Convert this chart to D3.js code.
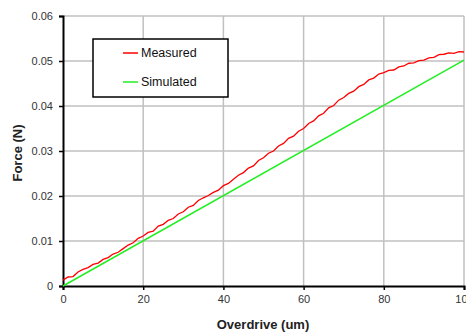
<!DOCTYPE html>
<html>
<head>
<meta charset="utf-8">
<script src="https://cdn.jsdelivr.net/npm/d3@7"></script>
<style>
  body { margin: 0; background: #fff; }
  svg { display: block; font-family: "Liberation Sans", Arial, sans-serif; }
</style>
</head>
<body>
<div id="chart"></div>
<script>
// measured force vs overdrive
var measuredX = [0, 1.25, 2.5, 3.75, 5, 6.25, 7.5, 8.75, 10, 11.25, 12.5, 13.75, 15, 16.25, 17.5, 18.75,
  20, 21.25, 22.5, 23.75, 25, 26.25, 27.5, 28.75, 30, 31.25, 32.5, 33.75, 35, 36.25, 37.5, 38.75,
  40, 41.25, 42.5, 43.75, 45, 46.25, 47.5, 48.75, 50, 51.25, 52.5, 53.75, 55, 56.25, 57.5, 58.75,
  60, 61.25, 62.5, 63.75, 65, 66.25, 67.5, 68.75, 70, 71.25, 72.5, 73.75, 75, 76.25, 77.5, 78.75,
  80, 81.25, 82.5, 83.75, 85, 86.25, 87.5, 88.75, 90, 91.25, 92.5, 93.75, 95, 96.25, 97.5, 98.75, 100];
var measuredY = [0.0013, 0.0020, 0.0021, 0.0031, 0.0037, 0.0041, 0.0048, 0.0051, 0.0059, 0.0063, 0.0071, 0.0075, 0.0083, 0.0091, 0.0096, 0.0106,
  0.0111, 0.0119, 0.0122, 0.0133, 0.0137, 0.0146, 0.0150, 0.0160, 0.0165, 0.0175, 0.0179, 0.0190, 0.0196, 0.0201, 0.0208, 0.0213,
  0.0223, 0.0228, 0.0237, 0.0246, 0.0252, 0.0262, 0.0267, 0.0279, 0.0285, 0.0295, 0.0300, 0.0311, 0.0317, 0.0328, 0.0333, 0.0344,
  0.0350, 0.0361, 0.0367, 0.0378, 0.0384, 0.0396, 0.0401, 0.0413, 0.0419, 0.0428, 0.0433, 0.0443, 0.0448, 0.0458, 0.0462, 0.0471,
  0.0474, 0.0479, 0.0480, 0.0487, 0.0489, 0.0495, 0.0496, 0.0501, 0.0502, 0.0507, 0.0508, 0.0514, 0.0515, 0.0518, 0.0517, 0.0521, 0.0520];

// simulated: straight line
var simulatedX = [0, 100];
var simulatedY = [0, 0.0502];

var xTicks = [0, 20, 40, 60, 80, 100];
var yTicks = [0, 0.01, 0.02, 0.03, 0.04, 0.05, 0.06];

var seriesNames = ["Measured", "Simulated"];
var seriesColors = ["#ff0000", "#22ee22"];

function drawChart() {
  var w = 466;
  var h = 333;
  var margin = {top: 16, left: 63, width: 401, height: 270};

  var xScale = d3.scaleLinear().domain([0, 100]).range([margin.left, margin.left + margin.width]);
  var yScale = d3.scaleLinear().domain([0, 0.06]).range([margin.top + margin.height, margin.top]);

  var svg = d3.select("#chart").append("svg")
    .attr("width", w)
    .attr("height", h);

  // gridlines
  svg.append("g").selectAll("line.vx")
    .data(xTicks.slice(1))
    .enter().append("line")
    .attr("x1", function(d) { return xScale(d); })
    .attr("x2", function(d) { return xScale(d); })
    .attr("y1", yScale(0))
    .attr("y2", yScale(0.06))
    .attr("stroke", "#c0c0c0")
    .attr("stroke-width", 1.5);

  svg.append("g").selectAll("line.hy")
    .data(yTicks.slice(1))
    .enter().append("line")
    .attr("x1", xScale(0))
    .attr("x2", xScale(100))
    .attr("y1", function(d) { return yScale(d); })
    .attr("y2", function(d) { return yScale(d); })
    .attr("stroke", "#c0c0c0")
    .attr("stroke-width", 1.5);

  // axes
  var xAxis = d3.axisBottom(xScale).tickValues(xTicks).tickSize(4).tickPadding(5)
    .tickFormat(d3.format("d"));
  var gx = svg.append("g")
    .attr("transform", "translate(0," + yScale(0) + ")")
    .call(xAxis);

  var yAxis = d3.axisLeft(yScale).tickValues(yTicks).tickSize(4).tickPadding(6)
    .tickFormat(function(d) { return d === 0 ? "0" : d3.format(".2f")(d); });
  var gy = svg.append("g")
    .attr("transform", "translate(" + xScale(0) + ",0)")
    .call(yAxis);

  [gx, gy].forEach(function(g) {
    g.select(".domain").attr("stroke", "#000").attr("stroke-width", 2);
    g.selectAll(".tick line").attr("stroke", "#000").attr("stroke-width", 1.5);
    g.selectAll(".tick text")
      .attr("fill", "#333")
      .style("font-size", "11px")
      .style("font-family", "Liberation Sans, Arial, sans-serif");
  });

  // lines
  var line = d3.line()
    .x(function(d) { return xScale(d[0]); })
    .y(function(d) { return yScale(d[1]); });

  var measured = measuredX.map(function(x, i) { return [x, measuredY[i]]; });
  var simulated = simulatedX.map(function(x, i) { return [x, simulatedY[i]]; });

  svg.append("path")
    .datum(simulated)
    .attr("d", line)
    .attr("fill", "none")
    .attr("stroke", seriesColors[1])
    .attr("stroke-width", 1.5);

  svg.append("path")
    .datum(measured)
    .attr("d", line)
    .attr("fill", "none")
    .attr("stroke", seriesColors[0])
    .attr("stroke-width", 1.3);

  // legend
  var legend = svg.append("g").attr("transform", "translate(93,39)");
  legend.append("rect")
    .attr("width", 135)
    .attr("height", 58)
    .attr("fill", "#fff")
    .attr("stroke", "#000")
    .attr("stroke-width", 1.5);

  var items = legend.selectAll("g.item")
    .data(seriesNames)
    .enter().append("g")
    .attr("transform", function(d, i) { return "translate(0," + (14 + i * 29) + ")"; });

  items.append("line")
    .attr("x1", 30).attr("x2", 45)
    .attr("stroke", function(d, i) { return seriesColors[i]; })
    .attr("stroke-width", 1.5);

  items.append("text")
    .attr("x", 48)
    .attr("dy", "0.35em")
    .style("font-size", "12.5px")
    .attr("fill", "#111")
    .text(function(d) { return d; });

  // axis titles
  svg.append("text")
    .attr("x", 263)
    .attr("y", 329)
    .attr("text-anchor", "middle")
    .style("font-size", "13px")
    .style("font-weight", "bold")
    .attr("fill", "#222")
    .text("Overdrive (um)");

  svg.append("text")
    .attr("transform", "translate(22," + 153 + ") rotate(-90)")
    .attr("text-anchor", "middle")
    .style("font-size", "13px")
    .style("font-weight", "bold")
    .attr("fill", "#222")
    .text("Force (N)");
}

window.onload = function() {
  drawChart();
};
</script>
</body>
</html>
